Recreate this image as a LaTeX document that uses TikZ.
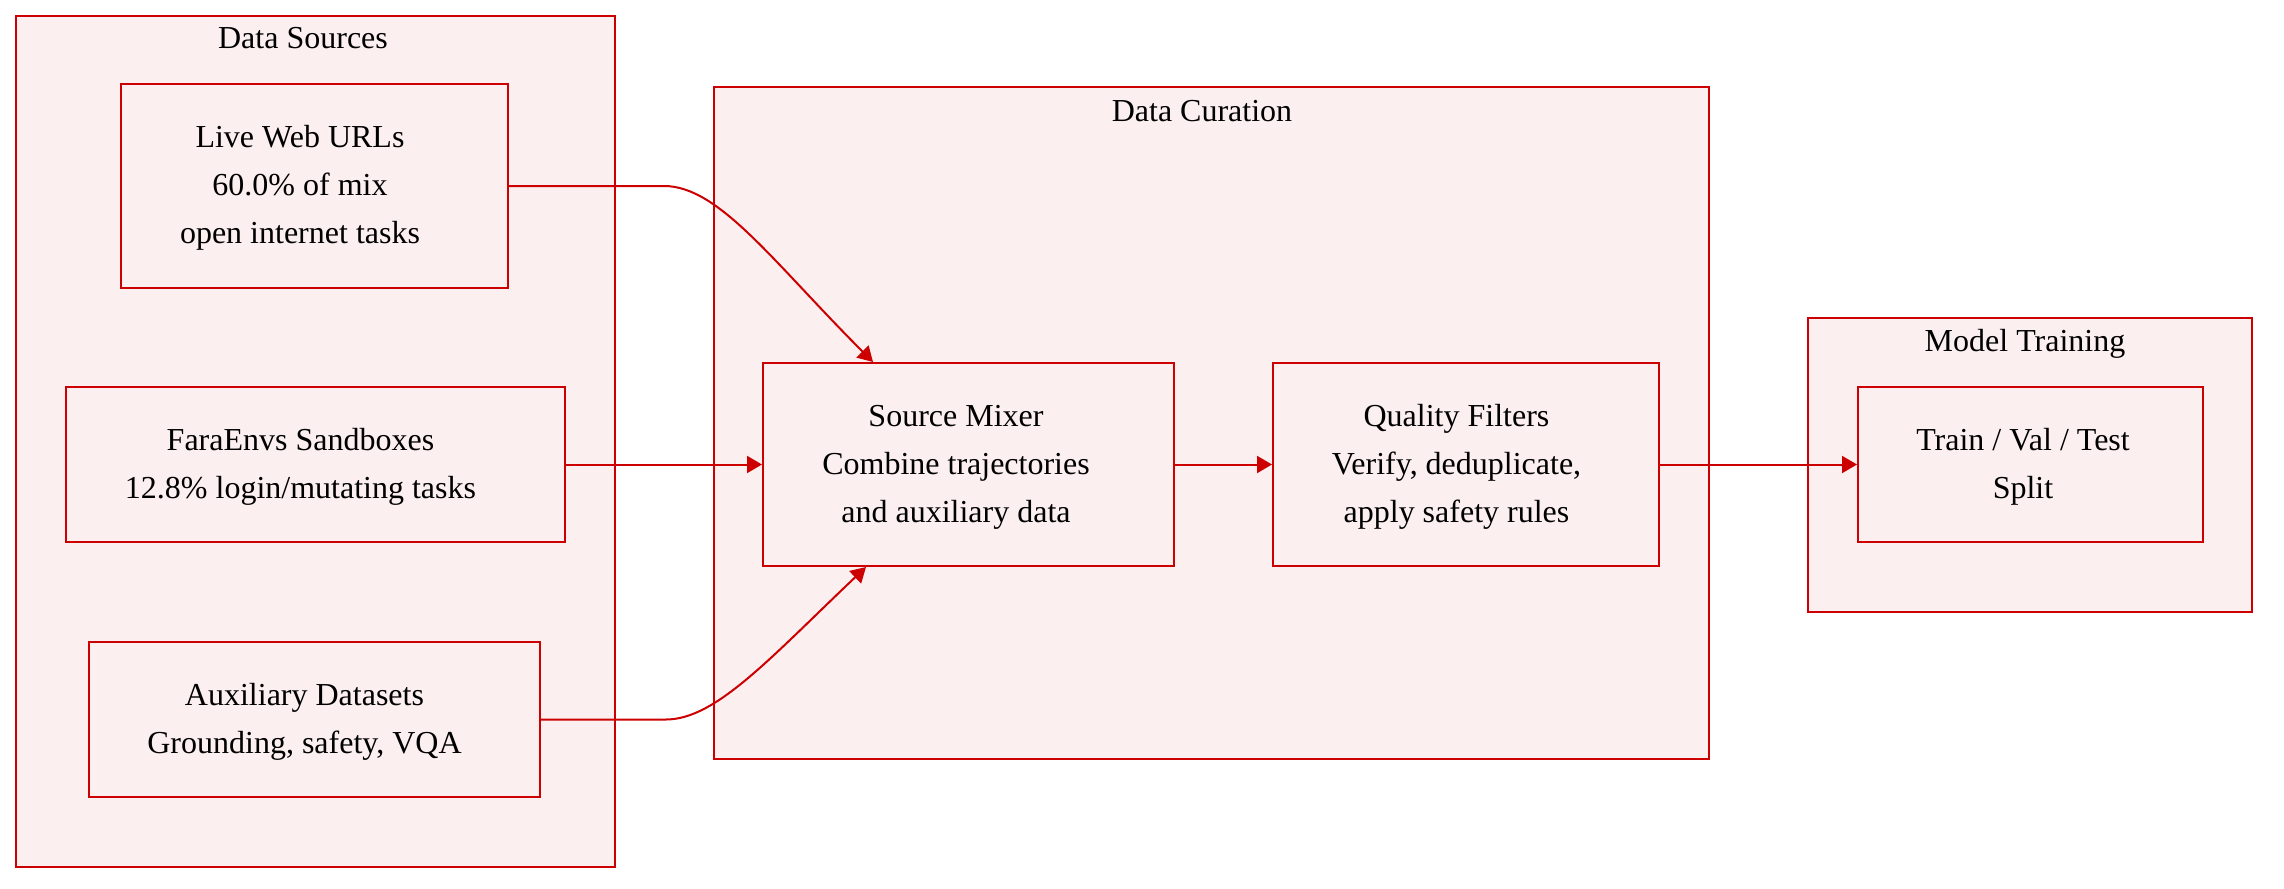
\documentclass[tikz,border=0pt]{standalone}
\usepackage{fontspec}
\setmainfont{Liberation Serif}
\usetikzlibrary{arrows.meta,calc}
\definecolor{strokered}{HTML}{CC0000}
\definecolor{pinkfill}{HTML}{FCEFEF}
\newcommand{\shiftedtext}[2]{\begin{tabular}{@{}c@{\hspace{#1}}}#2\end{tabular}}
\begin{document}
\begin{tikzpicture}[x=0.5pt,y=-0.5pt,
 grp/.style={draw=strokered,fill=pinkfill,line width=1pt,inner sep=0pt,rectangle},
 box/.style={draw=strokered,fill=pinkfill,line width=1pt,inner sep=0pt,rectangle,font=\fontsize{16pt}{24pt}\selectfont},
 ttl/.style={font=\fontsize{16pt}{24pt}\selectfont,inner sep=0pt,anchor=base},
 edge/.style={draw=strokered,line width=1pt,-{Triangle[length=7.5pt,width=8.5pt]}}]
\useasboundingbox (0,0) rectangle (2284,888);
% groups
\node[grp,minimum width=299.5pt,minimum height=425.5pt] (gsrc) at (315.5,441.5) {};
\node[grp,minimum width=497.5pt,minimum height=336pt] (gcur) at (1211.5,423) {};
\node[grp,minimum width=222pt,minimum height=147pt] (gtrn) at (2030,465) {};
\node[ttl] (tsrc) at (303,49) {Data Sources};
\node[ttl] (tcur) at (1202,121) {Data Curation};
\node[ttl] (ttrn) at (2025,351) {Model Training};
% nodes
\node[box,minimum width=193.5pt,minimum height=101.5pt] (live) at (314.5,186) {\shiftedtext{14.5pt}{Live Web URLs\\60.0\% of mix\\open internet tasks}};
\node[box,minimum width=249.5pt,minimum height=77.5pt] (fara) at (315.5,464.5) {\shiftedtext{15pt}{FaraEnvs Sandboxes\\12.8\% login/mutating tasks}};
\node[box,minimum width=225.5pt,minimum height=77.5pt] (aux) at (314.5,719.5) {\shiftedtext{10pt}{Auxiliary Datasets\\Grounding, safety, VQA}};
\node[box,minimum width=205.5pt,minimum height=101.5pt] (mixer) at (968.5,464.5) {\shiftedtext{12.5pt}{Source Mixer\\Combine trajectories\\and auxiliary data}};
\node[box,minimum width=193pt,minimum height=101.5pt] (qual) at (1466,464.5) {\shiftedtext{9.5pt}{Quality Filters\\Verify, deduplicate,\\apply safety rules}};
\node[box,minimum width=172.5pt,minimum height=77.5pt] (train) at (2030.5,464.5) {\shiftedtext{7.5pt}{Train / Val / Test\\Split}};
% edges
\draw[edge] (live.east) -- ++(155,0) .. controls +(55,0) and +(-100,-100) .. ($(mixer.north west)+(111,0)$);
\draw[edge] (fara.east) -- (mixer.west);
\draw[edge] (aux.east) -- ++(125,0) .. controls +(50,0) and +(-95,90) .. ($(mixer.south west)+(104,0)$);
\draw[edge] (mixer.east) -- (qual.west);
\draw[edge] (qual.east) -- (train.west);
\end{tikzpicture}
\end{document}
